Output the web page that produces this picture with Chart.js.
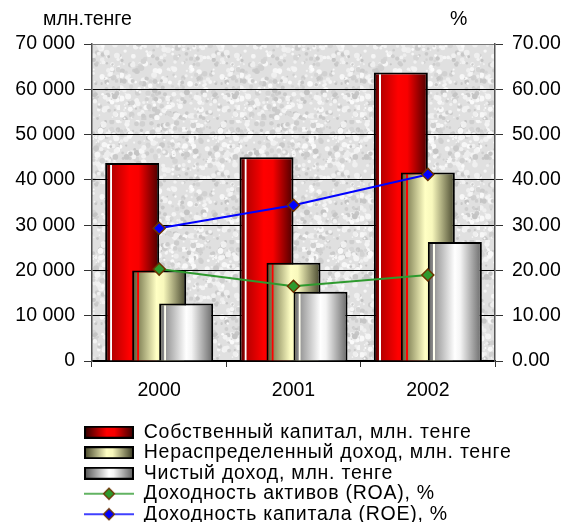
<!DOCTYPE html>
<html><head><meta charset="utf-8">
<script src="https://cdn.jsdelivr.net/npm/chart.js@4.4.1/dist/chart.umd.min.js"></script>
<style>html,body{margin:0;padding:0;background:#fff;overflow:hidden}</style>
</head><body>
<canvas id="c" width="567" height="522"></canvas>
<script>
// ---- data ----
const categories = ['2000', '2001', '2002'];
const equity = [43700, 45000, 63700];
const retainedEarnings = [20000, 21700, 41600];
const netIncome = [12700, 15300, 26300];
const roa = [20.3, 16.5, 19.0];
const roe = [29.3, 34.4, 41.2];
const seriesLabels = [
  'Собственный капитал, млн. тенге',
  'Нераспределенный доход, млн. тенге',
  'Чистый доход, млн. тенге',
  'Доходность активов (ROA), %',
  'Доходность капитала (ROE), %'
];
const leftUnit = 'млн.тенге';
const rightUnit = '%';
const leftTicks = [0, 10000, 20000, 30000, 40000, 50000, 60000, 70000];
const rightTicks = [0, 10, 20, 30, 40, 50, 60, 70];

// ---- styles ----
const FONT = '"Liberation Sans", Arial, sans-serif';
const FS = 19.5;
Chart.defaults.font.family = FONT;
Chart.defaults.font.size = FS;
Chart.defaults.color = '#000';

const barStops = [
  [[0,'#3a0000'],[0.09,'#900000'],[0.10,'#ffffff'],[0.125,'#ffffff'],[0.135,'#b80000'],[0.45,'#ff0000'],[0.62,'#f80000'],[1,'#480000']],
  [[0,'#505032'],[0.09,'#7a7a52'],[0.10,'#ff0000'],[0.125,'#ff0000'],[0.135,'#8c8c60'],[0.45,'#ffffc4'],[0.58,'#f8f8bc'],[1,'#45452c']],
  [[0,'#5e5e5e'],[0.09,'#8a8a8a'],[0.10,'#fffff0'],[0.125,'#fffff0'],[0.135,'#9a9a9a'],[0.5,'#ffffff'],[0.6,'#f4f4f4'],[1,'#686868']]
];
const lineColors = ['#2e9a2e', '#0000ff'];
const markerBorder = '#6b3300';

function makeGrad(ctx, x0, x1, stops) {
  const g = ctx.createLinearGradient(x0, 0, x1, 0);
  stops.forEach(s => g.addColorStop(s[0], s[1]));
  return g;
}

function barIcon(stops) {
  const c = document.createElement('canvas');
  c.width = 50; c.height = 13;
  const x = c.getContext('2d');
  x.fillStyle = '#000'; x.fillRect(0, 0, 50, 13);
  x.fillStyle = makeGrad(x, 2, 48, stops.filter(s => s[0] < 0.09 || s[0] > 0.14));
  x.fillRect(2, 2, 46, 9);
  return c;
}
function lineIcon(color) {
  const c = document.createElement('canvas');
  c.width = 50; c.height = 14;
  const x = c.getContext('2d');
  x.strokeStyle = color; x.lineWidth = 1.5;
  x.beginPath(); x.moveTo(0, 7); x.lineTo(50, 7); x.stroke();
  x.beginPath(); x.moveTo(25, 1.5); x.lineTo(30.5, 7); x.lineTo(25, 12.5); x.lineTo(19.5, 7); x.closePath();
  x.fillStyle = color; x.fill();
  x.strokeStyle = markerBorder; x.lineWidth = 1.3; x.stroke();
  return c;
}
const legendIcons = [barIcon(barStops[0]), barIcon(barStops[1]), barIcon(barStops[2]), lineIcon(lineColors[0]), lineIcon(lineColors[1])];

// textured plot background
function makeTexture() {
  const c = document.createElement('canvas');
  c.width = 120; c.height = 120;
  const x = c.getContext('2d');
  x.fillStyle = '#e0e0e0'; x.fillRect(0, 0, 120, 120);
  let s = 12345;
  const rnd = () => { s = (s * 1103515245 + 12345) & 0x7fffffff; return s / 0x7fffffff; };
  for (let i = 0; i < 700; i++) {
    const px = rnd() * 120, py = rnd() * 120, r = 0.8 + rnd() * 2.2;
    const v = rnd() < 0.55 ? 238 + Math.floor(rnd() * 14) : 196 + Math.floor(rnd() * 20);
    x.fillStyle = `rgb(${v},${v},${v})`;
    x.beginPath(); x.arc(px, py, r, 0, Math.PI * 2); x.fill();
  }
  return c;
}
const texture = makeTexture();

const layoutPlugin = {
  id: 'customLayout',
  afterLayout(chart) {
    const lg = chart.legend;
    lg.left = 83;
    lg.top = 421.5;
    if (!lg.$wrapped) {
      const orig = lg.draw;
      lg.draw = function () {
        const ctx = this.ctx;
        ctx.save();
        ctx.letterSpacing = '0.75px';
        orig.apply(this, arguments);
        ctx.restore();
      };
      lg.$wrapped = true;
    }
  },
  beforeDraw(chart) {
    const {ctx, chartArea: a} = chart;
    ctx.save();
    ctx.fillStyle = ctx.createPattern(texture, 'repeat');
    ctx.fillRect(a.left, a.top, a.right - a.left, a.bottom - a.top);
    ctx.restore();
  },
  beforeDatasetDraw() { return false; },
  afterDatasetsDraw(chart) {
    const ctx = chart.ctx;
    chart.data.datasets.forEach((ds, i) => {
      const meta = chart.getDatasetMeta(i);
      if (meta.hidden) return;
      if (meta.type === 'bar') {
        meta.data.forEach(el => {
          const p = el.getProps(['x', 'width'], true);
          el.options.backgroundColor = makeGrad(ctx, p.x - p.width / 2, p.x + p.width / 2, barStops[i]);
        });
      }
      ctx.save();
      meta.controller.draw();
      ctx.restore();
    });
  },
  afterDraw(chart) {
    const ctx = chart.ctx;
    ctx.save();
    ctx.font = `${FS}px ${FONT}`;
    ctx.fillStyle = '#000';
    ctx.textBaseline = 'middle';
    ctx.textAlign = 'left';
    ctx.fillText(leftUnit, 43, 20);
    ctx.fillText(rightUnit, 450, 20);
    ctx.restore();
  }
};

const fmtThousands = v => String(v).replace(/\B(?=(\d{3})+(?!\d))/g, ' ');

new Chart(document.getElementById('c'), {
  data: {
    labels: categories,
    datasets: [
      { type: 'bar', label: seriesLabels[0], data: equity, yAxisID: 'y', backgroundColor: () => '#e00000' },
      { type: 'bar', label: seriesLabels[1], data: retainedEarnings, yAxisID: 'y', backgroundColor: () => '#f0f0b0' },
      { type: 'bar', label: seriesLabels[2], data: netIncome, yAxisID: 'y', backgroundColor: () => '#d0d0d0' },
      { type: 'line', label: seriesLabels[3], data: roa, yAxisID: 'y1', borderColor: lineColors[0], borderWidth: 2,
        pointStyle: 'rectRot', pointRadius: 6, pointBackgroundColor: lineColors[0], pointBorderColor: markerBorder, pointBorderWidth: 1.5, tension: 0 },
      { type: 'line', label: seriesLabels[4], data: roe, yAxisID: 'y1', borderColor: lineColors[1], borderWidth: 2,
        pointStyle: 'rectRot', pointRadius: 6, pointBackgroundColor: lineColors[1], pointBorderColor: markerBorder, pointBorderWidth: 1.5, tension: 0 }
    ]
  },
  options: {
    responsive: false,
    animation: false,
    events: [],
    layout: { padding: { top: 44, left: 0, right: 0, bottom: 0 } },
    datasets: {
      bar: { categoryPercentage: 0.603, barPercentage: 2.0, borderColor: '#000', borderWidth: 2, borderSkipped: 'bottom' }
    },
    plugins: {
      tooltip: { enabled: false },
      legend: {
        position: 'bottom',
        align: 'start',
        labels: {
          usePointStyle: true,
          pointStyleWidth: 50,
          boxWidth: 50,
          boxHeight: 13,
          padding: 1,
          color: '#000',
          font: { size: FS, family: FONT },
          generateLabels: chart => chart.data.datasets.map((ds, i) => ({
            text: ds.label, pointStyle: legendIcons[i], datasetIndex: i,
            fillStyle: '#000', strokeStyle: '#000', lineWidth: 0, hidden: false, fontColor: '#000'
          }))
        }
      }
    },
    scales: {
      x: {
        type: 'category',
        offset: true,
        grid: { offset: true, drawOnChartArea: false, drawTicks: true, tickLength: 6, color: '#000', tickColor: '#333' },
        border: { color: '#000', width: 1.5 },
        ticks: { padding: 12, color: '#000', font: { size: FS } },
        afterFit: s => { s.height = 522 - 361 - s.chart.legend.height; }
      },
      y: {
        position: 'left',
        min: 0, max: 70000,
        afterBuildTicks: s => { s.ticks = leftTicks.map(v => ({ value: v })); },
        afterFit: s => { s.width = 92; },
        grid: { color: c => (c.tick && c.tick.value === 70000) ? '#7a7a7a' : '#000', lineWidth: 1, tickLength: 8, tickColor: '#333' },
        border: { color: '#555', width: 1.5 },
        ticks: { padding: 9, color: '#000', font: { size: FS }, callback: v => fmtThousands(v) }
      },
      y1: {
        position: 'right',
        min: 0, max: 70,
        afterBuildTicks: s => { s.ticks = rightTicks.map(v => ({ value: v })); },
        afterFit: s => { s.width = 72; },
        grid: { drawOnChartArea: false, tickLength: 8, tickColor: '#333' },
        border: { color: '#555', width: 1.5 },
        ticks: { padding: 9, color: '#000', font: { size: FS }, callback: v => Number(v).toFixed(2) }
      }
    }
  },
  plugins: [layoutPlugin]
});
</script>
</body></html>
